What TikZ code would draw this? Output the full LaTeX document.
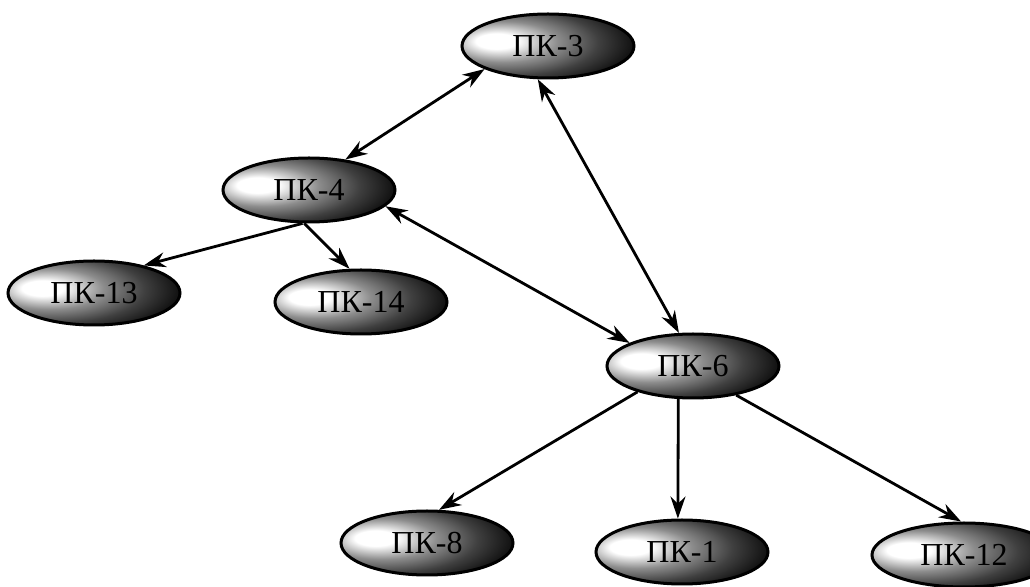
\documentclass[tikz,border=0pt]{standalone}
\usepackage{fontspec}
\setmainfont{Liberation Serif}
\usepackage{tikz}
\usetikzlibrary{positioning,shapes,arrows.meta}

\pgfdeclareradialshading{pkball}{\pgfpoint{-16bp}{4bp}}{%
  color(0bp)=(white); color(6bp)=(white); color(16bp)=(black!45);
  color(26bp)=(black!75); color(34bp)=(black!92); color(42bp)=(black); color(90bp)=(black)}

\begin{document}
\begin{tikzpicture}[
  x=0.5pt,y=-0.5pt,
  >={Stealth[length=11pt,width=7.5pt]},
  pknode/.style={draw,ellipse,line width=1.5pt,shading=pkball,
    minimum width=86pt,minimum height=32pt,inner sep=0pt,
    font=\fontsize{16}{18}\selectfont},
  link/.style={line width=1.4pt}
]
\useasboundingbox (0,0) rectangle (1030,587);

\node[pknode] (pk3) at (548,46) {ПК-3};
\node[pknode] (pk4) at (309,190) {ПК-4};
\node[pknode] (pk13) at (94,293) {ПК-13};
\node[pknode] (pk14) at (361,302) {ПК-14};
\node[pknode] (pk6) at (693,366) {ПК-6};
\node[pknode] (pk8) at (427,543) {ПК-8};
\node[pknode] (pk1) at (682,552) {ПК-1};
\node[pknode,minimum width=92pt] (pk12) at (964,555) {ПК-12};

\draw[link,<->] (pk3.200) -- (pk4.40);
\draw[link,<->] (pk3.253) -- (pk6.113);
\draw[link,<->] (pk4.-12) -- (pk6.160);
\draw[link,->] (pk4.259) -- (pk13.29);
\draw[link,->] (pk4.262) -- (pk14.109);
\draw[link,->] (pk6.205) -- (pk8.70);
\draw[link,->] (pk6.246) -- (pk1.97);
\draw[link,->] (pk6.-34) -- (pk12.95);
\end{tikzpicture}
\end{document}
